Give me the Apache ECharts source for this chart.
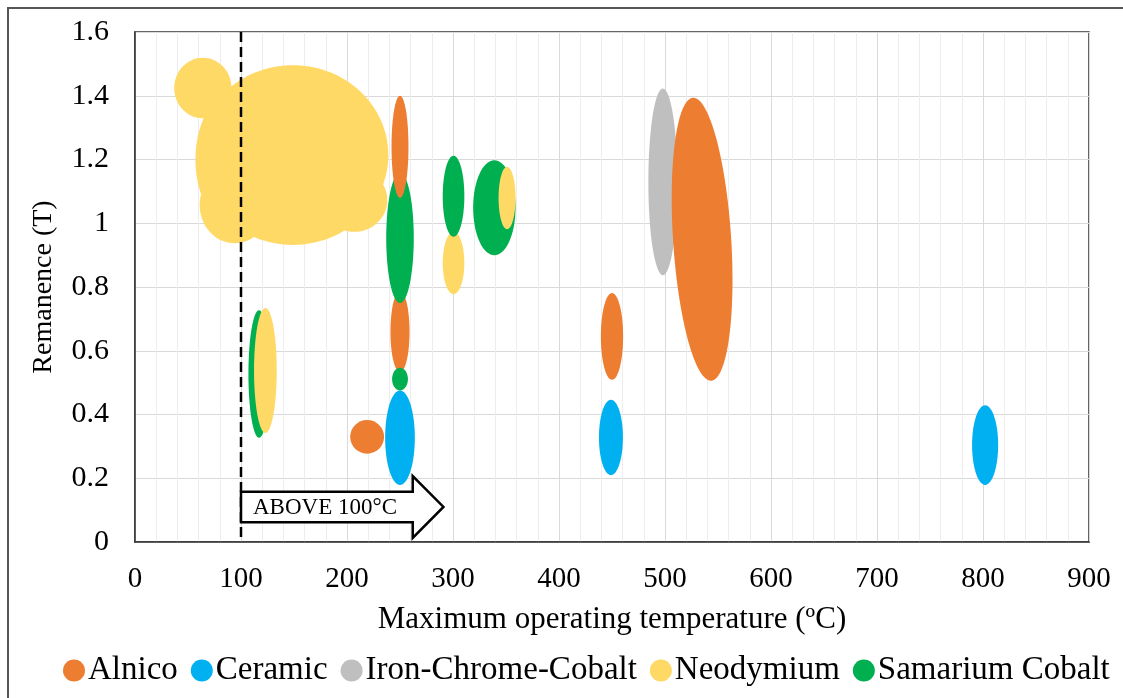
<!DOCTYPE html>
<html><head><meta charset="utf-8">
<script src="https://cdn.jsdelivr.net/npm/echarts@6/dist/echarts.min.js"></script>
<style>html,body{margin:0;padding:0;background:#fff}#c{width:1123px;height:698px}</style>
</head><body><div id="c"></div>
<script>
// ---- data ----
const seriesNames = ['Alnico', 'Ceramic', 'Iron-Chrome-Cobalt', 'Neodymium', 'Samarium Cobalt'];
const seriesColors = ['#ED7D31', '#00B0F0', '#BFBFBF', '#FFD966', '#00B050'];
// each region: [centre temperature (°C), centre remanence (T), half temperature range, half remanence range, tilt (deg), layer]
const alnico = [
  [250, 1.24, 8, 0.16, 0, 3],
  [250, 0.66, 9, 0.127, 0, 1],
  [219, 0.33, 16, 0.053, 0, 1],
  [450, 0.645, 10.5, 0.136, 0, 1],
  [535, 0.95, 27.4, 0.445, 3.7, 1]
];
const ceramic = [
  [250, 0.327, 14, 0.148, 0, 1],
  [449, 0.328, 11.3, 0.118, 0, 1],
  [802, 0.304, 12.3, 0.125, 0, 1]
];
const ironChromeCobalt = [
  [498, 1.13, 13.7, 0.293, 0, 0]
];
const neodymium = [
  [64, 1.424, 27, 0.095, 0, 0],
  [149, 1.214, 90, 0.282, 0, 0],
  [104, 1.2, 47, 0.235, 0, 0],
  [94, 1.057, 33, 0.12, 0, 0],
  [207, 1.073, 31, 0.1, 0, 0],
  [300.5, 0.875, 10.2, 0.098, 0, 0],
  [123, 0.538, 10.7, 0.196, 0, 3],
  [351, 1.079, 8, 0.098, 0, 3]
];
const samariumCobalt = [
  [250, 0.954, 13, 0.204, 0, 2],
  [300.5, 1.085, 10.2, 0.127, 0, 2],
  [339, 1.049, 20, 0.149, 0, 2],
  [117, 0.527, 10, 0.2, 0, 2],
  [250, 0.511, 7.5, 0.036, 0, 2]
];
const seriesData = [alnico, ceramic, ironChromeCobalt, neodymium, samariumCobalt];
const xTicks = {min: 0, max: 900, interval: 100};
const yTicks = {min: 0, max: 1.6, interval: 0.2};
// annotation: threshold line and arrow
const thresholdTemp = 100;
const arrowTemps = [100, 262, 291];      // tail, head base, tip
const arrowRemanence = [0.11, 0.048, 0.097]; // centre, body half height, head half height
const arrowText = 'ABOVE 100°C';

// ---- chart ----
const FONT = '"Liberation Serif", "Times New Roman", serif';
function renderEllipse(params, api) {
  const c = api.coord([api.value(0), api.value(1)]);
  const s = api.size([api.value(2), api.value(3)]);
  return {
    type: 'ellipse',
    x: c[0], y: c[1],
    rotation: api.value(4) * Math.PI / 180,
    z2: api.value(5),
    shape: {cx: 0, cy: 0, rx: s[0], ry: s[1]},
    style: {fill: api.visual('color')}
  };
}
const series = seriesNames.map((name, i) => ({
  name: name,
  type: 'custom',
  renderItem: renderEllipse,
  itemStyle: {color: seriesColors[i]},
  encode: {x: 0, y: 1},
  data: seriesData[i],
  silent: true
}));
series.push({
  type: 'custom',
  z: 10,
  silent: true,
  encode: {x: 0, y: 1},
  data: [[thresholdTemp, 0]],
  renderItem: function (params, api) {
    const p = (x, y) => api.coord([x, y]);
    const top = p(thresholdTemp, yTicks.max), bot = p(thresholdTemp, yTicks.min);
    const m = arrowRemanence[0], b = arrowRemanence[1], h = arrowRemanence[2];
    const pts = [
      p(arrowTemps[0], m + b), p(arrowTemps[1], m + b), p(arrowTemps[1], m + h),
      p(arrowTemps[2], m), p(arrowTemps[1], m - h), p(arrowTemps[1], m - b), p(arrowTemps[0], m - b)
    ];
    const tp = p(arrowTemps[0], m);
    return {
      type: 'group',
      children: [
        {type: 'line', shape: {x1: top[0], y1: top[1], x2: bot[0], y2: bot[1]},
          style: {stroke: '#000', lineWidth: 2.5, lineDash: [10, 5]}},
        {type: 'polygon', shape: {points: pts}, style: {fill: '#fff', stroke: '#000', lineWidth: 2.5}},
        {type: 'text', x: tp[0] + 12, y: tp[1] + 1,
          style: {text: arrowText, fontSize: 23, fontFamily: FONT, fill: '#000', align: 'left', verticalAlign: 'middle'}}
      ]
    };
  }
});

const chart = echarts.init(document.getElementById('c'), null, {renderer: 'canvas'});
chart.setOption({
  animation: false,
  backgroundColor: '#fff',
  textStyle: {fontFamily: FONT},
  graphic: [{
    type: 'rect', silent: true, z: -1,
    shape: {x: 8, y: 8, width: 1400, height: 900},
    style: {fill: 'none', stroke: '#555', lineWidth: 2}
  }],
  grid: {left: 135, right: 34, top: 32, bottom: 156, show: true, borderColor: '#333', borderWidth: 1.5, backgroundColor: 'transparent'},
  legend: {
    data: seriesNames,
    left: 58, top: 649,
    icon: 'circle', itemWidth: 22, itemHeight: 22, itemGap: 13,
    textStyle: {fontSize: 33, fontFamily: FONT, color: '#000', padding: [0, 0, 0, -2]}
  },
  xAxis: {
    type: 'value', min: xTicks.min, max: xTicks.max, interval: xTicks.interval,
    name: 'Maximum operating temperature (ºC)', nameLocation: 'middle', nameGap: 62,
    nameTextStyle: {fontSize: 31, fontFamily: FONT, color: '#000'},
    axisLine: {show: true, lineStyle: {color: '#333', width: 1.5}},
    axisTick: {show: false},
    axisLabel: {fontSize: 29, fontFamily: FONT, color: '#000', margin: 23},
    splitLine: {show: true, lineStyle: {color: '#d9d9d9', width: 1}},
    minorTick: {show: false, splitNumber: 5},
    minorSplitLine: {show: true, lineStyle: {color: '#ededed', width: 1}}
  },
  yAxis: {
    type: 'value', min: yTicks.min, max: yTicks.max, interval: yTicks.interval,
    name: 'Remanence (T)', nameLocation: 'middle', nameGap: 77,
    nameTextStyle: {fontSize: 28, fontFamily: FONT, color: '#000'},
    axisLine: {show: true, lineStyle: {color: '#333', width: 1.5}},
    axisTick: {show: false},
    axisLabel: {fontSize: 30, fontFamily: FONT, color: '#000', margin: 26},
    splitLine: {show: true, lineStyle: {color: '#d9d9d9', width: 1}}
  },
  series: series
});
</script>
</body></html>
